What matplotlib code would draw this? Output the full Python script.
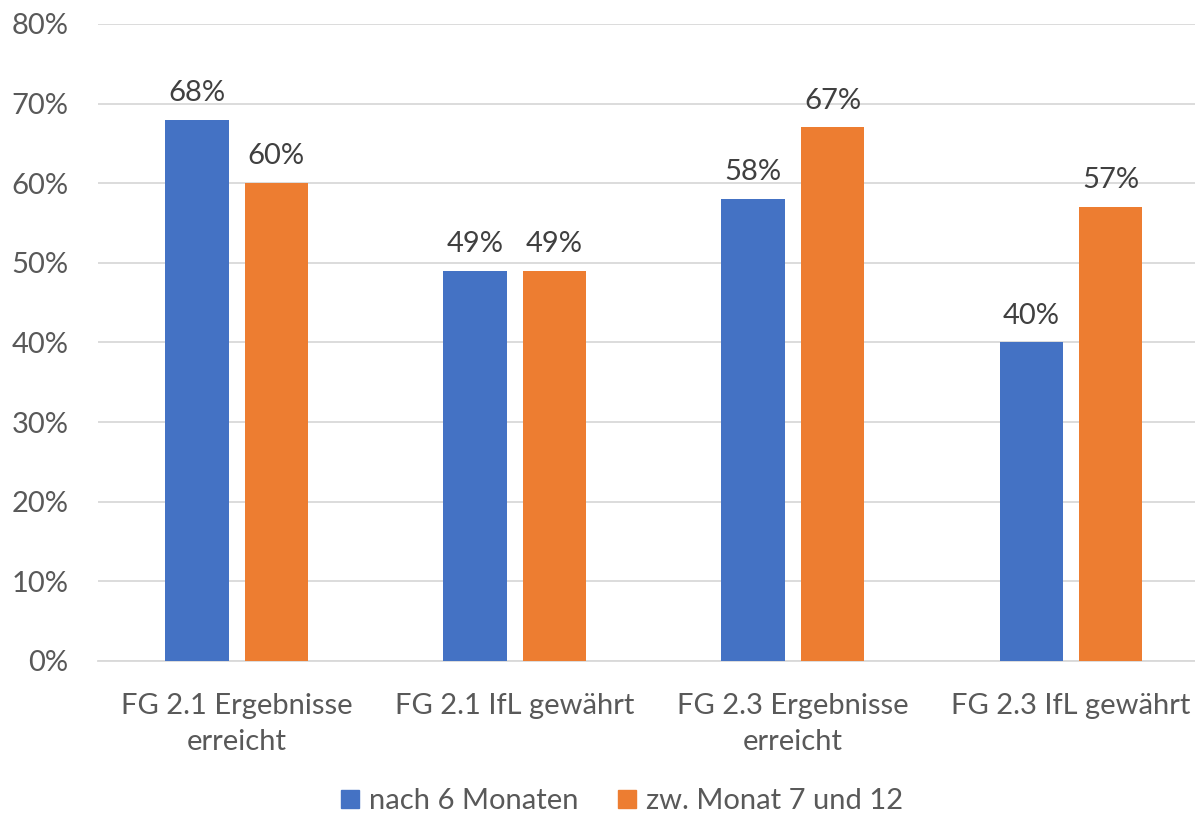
import numpy as np
import matplotlib
matplotlib.use("Agg")
import matplotlib.pyplot as plt
from matplotlib.lines import Line2D
from matplotlib.ticker import FuncFormatter

plt.rcParams['font.family'] = ['Lato', 'DejaVu Sans']

categories = ['FG 2.1 Ergebnisse\nerreicht', 'FG 2.1 IfL gewährt',
              'FG 2.3 Ergebnisse\nerreicht', 'FG 2.3 IfL gewährt']
series_names = ['nach 6 Monaten', 'zw. Monat 7 und 12']
nach_6 = [68, 49, 58, 40]
monat_7_12 = [60, 49, 67, 57]
colors = ['#4472C4', '#ED7D31']

fig = plt.figure(figsize=(11.95, 8.16), dpi=100)
# plot area runs a little past the right edge of the figure
ax = fig.add_axes([0.0816, 0.19, 0.9310, 0.7806])

x = np.arange(len(categories))
width = 0.228
offset = 0.143
for vals, dx, c in [(nach_6, -offset, colors[0]), (monat_7_12, offset, colors[1])]:
    bars = ax.bar(x + dx, vals, width=width, color=c, zorder=3)
    for b, v in zip(bars, vals):
        ax.annotate(f'{v}%', (b.get_x() + b.get_width() / 2, v),
                    xytext=(0, 10), textcoords='offset points',
                    ha='center', va='bottom', fontsize=21, color='#404040')

ax.set_xlim(-0.5, 3.5)
ax.set_ylim(0, 80)
ax.set_yticks(range(0, 81, 10))
ax.yaxis.set_major_formatter(FuncFormatter(lambda v, p: f'{v:.0f}%'))
ax.set_xticks(x)
ax.set_xticklabels(categories, fontsize=21, color='#595959', linespacing=1.5)
ax.tick_params(axis='y', labelsize=21, labelcolor='#595959', length=0, pad=21)
ax.tick_params(axis='x', length=0, pad=23)
ax.grid(axis='y', color='#D9D9D9', linewidth=1.3, zorder=0)
for s in ['top', 'right', 'left']:
    ax.spines[s].set_visible(False)
ax.spines['bottom'].set_color('#D9D9D9')
ax.spines['bottom'].set_linewidth(1.3)

handles = [Line2D([], [], marker='s', linestyle='none', markersize=12.5,
                  markerfacecolor=c, markeredgecolor=c) for c in colors]
fig.legend(handles, series_names, loc='lower center', bbox_to_anchor=(0.52, -0.03),
           ncol=2, frameon=False, fontsize=21, labelcolor='#595959',
           handletextpad=0.3, columnspacing=1.3, handlelength=0.7)

fig.savefig('out.png', dpi=100)
